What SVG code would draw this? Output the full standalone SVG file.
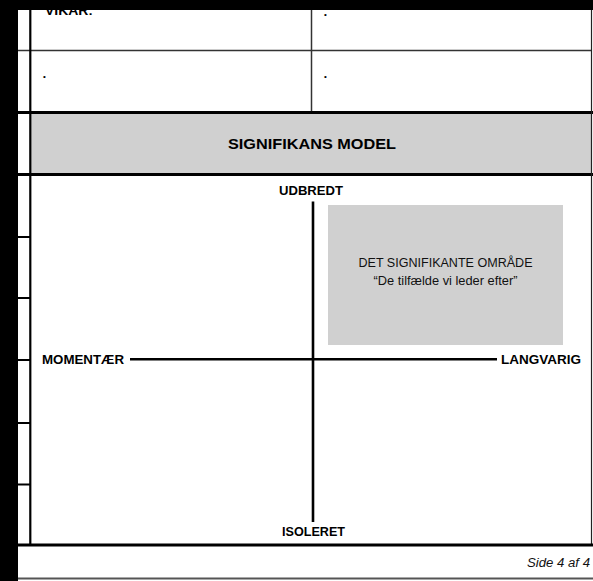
<svg xmlns="http://www.w3.org/2000/svg" width="593" height="581" viewBox="0 0 593 581">
<style>
.b{font-family:"Liberation Sans",Arial,sans-serif;font-weight:bold;fill:#000}
.r{font-family:"Liberation Sans",Arial,sans-serif;fill:#111}
.it{font-family:"Liberation Sans",Arial,sans-serif;font-style:italic;fill:#111}
.dot{font-family:"Liberation Sans",Arial,sans-serif;fill:#000}
.tick{stroke:#000;stroke-width:2}
.thick{stroke:#000;stroke-width:3}
.thin{stroke:#333;stroke-width:1.5}
.axis{stroke:#000;stroke-width:2.6}
</style>
<rect x="0" y="0" width="593" height="581" fill="#fff"/>
<g id="top-table">
  <text class="b" x="45" y="15" font-size="13" textLength="48" lengthAdjust="spacingAndGlyphs">VIKAR:</text>
  <text class="dot" x="324" y="17" font-size="8">•</text>
  <text class="dot" x="43" y="78.5" font-size="8">•</text>
  <text class="dot" x="324" y="78.5" font-size="8">•</text>
  <line class="thin" x1="18" y1="50.5" x2="592" y2="50.5"/>
  <line class="thin" x1="311.5" y1="10" x2="311.5" y2="112"/>
  <line class="thick" x1="18" y1="112.5" x2="593" y2="112.5"/>
</g>
<g id="header">
  <rect x="31" y="114" width="560" height="59" fill="#d0d0d0"/>
  <text class="b" x="312" y="149" font-size="15" text-anchor="middle" textLength="168" lengthAdjust="spacingAndGlyphs">SIGNIFIKANS MODEL</text>
  <line class="thick" x1="18" y1="174.5" x2="593" y2="174.5"/>
</g>
<g id="frame">
  <rect x="0" y="0" width="593" height="10" fill="#000"/>
  <rect x="0" y="0" width="18" height="581" fill="#000"/>
  <line x1="30.3" y1="10" x2="30.3" y2="545" stroke="#000" stroke-width="2.2"/>
  <line x1="591.5" y1="10" x2="591.5" y2="545" stroke="#222" stroke-width="1.2"/>
  <line class="tick" x1="18" y1="237" x2="30" y2="237"/>
  <line class="tick" x1="18" y1="298" x2="30" y2="298"/>
  <line class="tick" x1="18" y1="360" x2="30" y2="360"/>
  <line class="tick" x1="18" y1="423" x2="30" y2="423"/>
  <line class="tick" x1="18" y1="484.5" x2="30" y2="484.5"/>
  <line class="thick" x1="18" y1="545" x2="593" y2="545"/>
  <line x1="18" y1="578.5" x2="593" y2="578.5" stroke="#555" stroke-width="2"/>
</g>
<g id="significant-area">
  <rect x="328" y="205" width="235" height="140" fill="#d0d0d0"/>
  <text class="r" x="445.5" y="267" font-size="12.5" text-anchor="middle" textLength="174" lengthAdjust="spacingAndGlyphs">DET SIGNIFIKANTE OMRÅDE</text>
  <text class="r" x="445.5" y="285" font-size="12.5" text-anchor="middle" textLength="144" lengthAdjust="spacingAndGlyphs">“De tilfælde vi leder efter”</text>
</g>
<g id="connectors">
  <line class="axis" x1="313" y1="201.5" x2="313" y2="522"/>
  <line class="axis" x1="130" y1="359.3" x2="497" y2="359.3"/>
</g>
<g id="label-udbredt"><text class="b" x="311" y="195" font-size="12.5" text-anchor="middle" textLength="64" lengthAdjust="spacingAndGlyphs">UDBREDT</text></g>
<g id="label-isoleret"><text class="b" x="313.5" y="536" font-size="12.5" text-anchor="middle" textLength="63" lengthAdjust="spacingAndGlyphs">ISOLERET</text></g>
<g id="label-momentaer"><text class="b" x="42" y="364" font-size="12.5" textLength="82" lengthAdjust="spacingAndGlyphs">MOMENTÆR</text></g>
<g id="label-langvarig"><text class="b" x="501" y="364" font-size="12.5" textLength="80" lengthAdjust="spacingAndGlyphs">LANGVARIG</text></g>
<g id="footer"><text class="it" x="590" y="567" font-size="12" text-anchor="end" textLength="63" lengthAdjust="spacingAndGlyphs">Side 4 af 4</text></g>
</svg>
